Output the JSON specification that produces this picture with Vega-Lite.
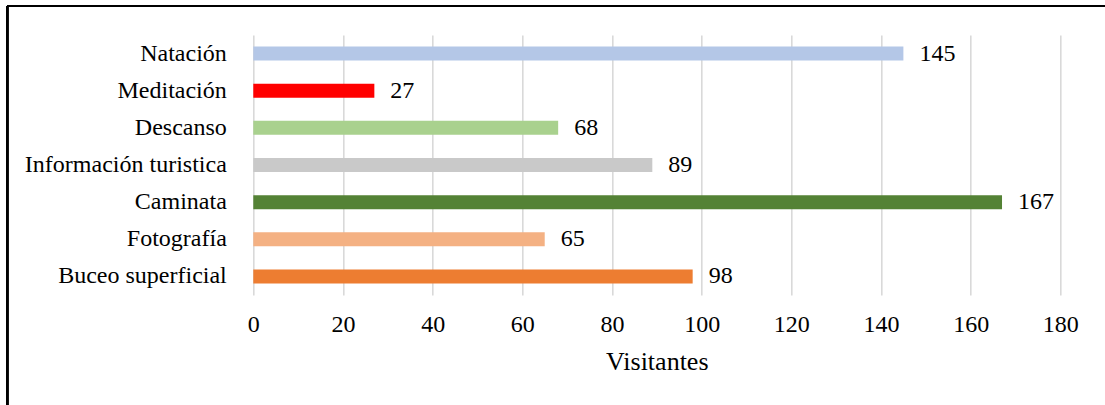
{
  "$schema": "https://vega.github.io/schema/vega-lite/v6.json",
  "width": 807,
  "height": 260,
  "autosize": {"type": "none"},
  "padding": {"left": 253.3, "top": 35, "right": 44.7, "bottom": 110},
  "background": "white",
  "config": {
    "view": {"stroke": null},
    "font": "Liberation Serif",
    "text": {"font": "Liberation Serif"}
  },
  "data": {
    "values": [
      {"actividad": "Natación", "visitantes": 145},
      {"actividad": "Meditación", "visitantes": 27},
      {"actividad": "Descanso", "visitantes": 68},
      {"actividad": "Información turistica", "visitantes": 89},
      {"actividad": "Caminata", "visitantes": 167},
      {"actividad": "Fotografía", "visitantes": 65},
      {"actividad": "Buceo superficial", "visitantes": 98}
    ]
  },
  "layer": [
    {
      "layer": [
        {
          "mark": {"type": "bar"},
          "encoding": {
            "y": {
              "field": "actividad",
              "type": "nominal",
              "sort": null,
              "scale": {"paddingInner": 0.624, "paddingOuter": 0.312},
              "axis": {
                "title": null,
                "domain": false,
                "ticks": false,
                "labelPadding": 27,
                "labelFontSize": 24,
                "labelFont": "Liberation Serif",
                "labelColor": "#000000",
                "labelLimit": 400
              }
            },
            "x": {
              "field": "visitantes",
              "type": "quantitative",
              "scale": {"domain": [0, 180], "nice": false},
              "axis": {
                "title": "Visitantes",
                "values": [0, 20, 40, 60, 80, 100, 120, 140, 160, 180],
                "grid": true,
                "gridColor": "#d9d9d9",
                "gridWidth": 1.6,
                "domain": false,
                "ticks": false,
                "labelFlush": false,
                "labelPadding": 17,
                "labelFontSize": 24,
                "labelFont": "Liberation Serif",
                "labelColor": "#000000",
                "titleFontSize": 26,
                "titleFont": "Liberation Serif",
                "titleFontWeight": "normal",
                "titleColor": "#000000",
                "titlePadding": 12
              }
            },
            "color": {
              "field": "actividad",
              "type": "nominal",
              "legend": null,
              "scale": {
                "domain": ["Natación", "Meditación", "Descanso", "Información turistica", "Caminata", "Fotografía", "Buceo superficial"],
                "range": ["#b4c7e7", "#ff0000", "#a9d18e", "#c9c9c9", "#548235", "#f4b183", "#ed7d31"]
              }
            }
          }
        },
        {
          "mark": {"type": "text", "align": "left", "baseline": "middle", "dx": 16, "fontSize": 24, "color": "#000000", "font": "Liberation Serif"},
          "encoding": {
            "y": {"field": "actividad", "type": "nominal", "sort": null},
            "x": {"field": "visitantes", "type": "quantitative"},
            "text": {"field": "visitantes", "type": "quantitative"}
          }
        }
      ]
    },
    {
      "layer": [
        {
          "mark": {"type": "rule", "color": "#000000", "strokeWidth": 2},
          "encoding": {
            "x": {"datum": -54.87, "type": "quantitative"},
            "x2": {"datum": 200},
            "y": {"datum": 1.112, "type": "quantitative", "scale": {"domain": [0, 1], "nice": false, "zero": false}, "axis": null}
          }
        },
        {
          "mark": {"type": "rule", "color": "#000000", "strokeWidth": 2},
          "encoding": {
            "x": {"datum": -54.87, "type": "quantitative"},
            "y": {"datum": 1.112, "type": "quantitative", "scale": {"domain": [0, 1], "nice": false, "zero": false}, "axis": null},
            "y2": {"datum": -0.6}
          }
        }
      ]
    }
  ],
  "resolve": {"scale": {"y": "independent"}}
}
